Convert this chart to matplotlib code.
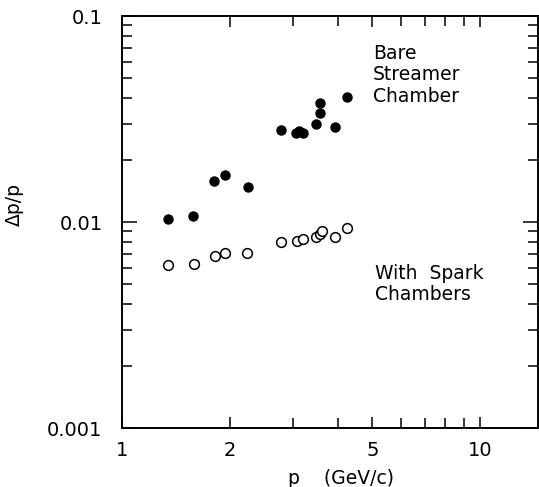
import matplotlib
matplotlib.use("Agg")
import matplotlib.pyplot as plt
from matplotlib.ticker import FixedLocator, NullFormatter, FixedFormatter

# Bare streamer chamber (filled circles)
p_bare = [1.34, 1.58, 1.81, 1.94, 2.25, 2.78, 3.06, 3.12, 3.21, 3.47, 3.56, 3.58, 3.93, 4.25]
dp_bare = [0.0103, 0.0107, 0.0158, 0.0169, 0.0148, 0.0279, 0.0270, 0.0277, 0.0270,
           0.0299, 0.0337, 0.0377, 0.0289, 0.0406]

# With spark chambers (open circles)
p_spark = [1.34, 1.59, 1.82, 1.94, 2.24, 2.78, 3.08, 3.20, 3.47, 3.56, 3.62, 3.93, 4.25]
dp_spark = [0.00617, 0.00625, 0.00686, 0.00710, 0.00710, 0.00802, 0.00809, 0.00830,
            0.00848, 0.00874, 0.00907, 0.00846, 0.00938]

x_major = [1, 2, 5, 10]
x_major_labels = ["1", "2", "5", "10"]
y_major = [0.001, 0.01, 0.1]
y_major_labels = ["0.001", "0.01", "0.1"]

plt.rcParams['font.family'] = ['DejaVu Sans']

fig = plt.figure(figsize=(5.39, 4.87), dpi=100)
ax = fig.add_axes([122/539, 59/487, 416/539, 412/487])

ax.set_xscale('log')
ax.set_yscale('log')
ax.set_xlim(1, 14.5)
ax.set_ylim(0.001, 0.1)

ax.plot(p_bare, dp_bare, 'o', ms=6.5, mfc='black', mec='black', mew=1.0)
ax.plot(p_spark, dp_spark, 'o', ms=7, mfc='white', mec='black', mew=1.1)

for s in ax.spines.values():
    s.set_linewidth(1.4)

ax.xaxis.set_major_locator(FixedLocator(x_major))
ax.xaxis.set_major_formatter(FixedFormatter(x_major_labels))
ax.xaxis.set_minor_locator(FixedLocator([3, 4, 6, 7, 8, 9]))
ax.xaxis.set_minor_formatter(NullFormatter())
ax.yaxis.set_major_locator(FixedLocator(y_major))
ax.yaxis.set_major_formatter(FixedFormatter(y_major_labels))
ax.yaxis.set_minor_locator(FixedLocator([k * 0.001 for k in range(2, 10)] + [k * 0.01 for k in range(2, 10)]))
ax.yaxis.set_minor_formatter(NullFormatter())

ax.tick_params(axis='both', which='both', direction='in', top=True, right=True, width=1.1)
ax.tick_params(axis='x', which='major', length=8, labelsize=14, pad=9)
ax.tick_params(axis='x', which='minor', length=7)
ax.tick_params(axis='y', which='major', length=11, labelsize=14, pad=14)
ax.tick_params(axis='y', which='minor', length=7)

fig.text(373/539, 1 - 44/487, "Bare\nStreamer\nChamber", fontsize=13.5,
         va='top', ha='left', linespacing=1.15)
fig.text(375/539, 1 - 264/487, "With  Spark\nChambers", fontsize=13.5,
         va='top', ha='left', linespacing=1.15)

fig.text(341/539, 1 - 478/487, "p    (GeV/c)", fontsize=13.5, ha='center', va='center')
fig.text(14/539, 1 - 205/487, "Δp/p", fontsize=13.5, ha='center', va='center', rotation=90)

fig.savefig("out.png", dpi=100)
